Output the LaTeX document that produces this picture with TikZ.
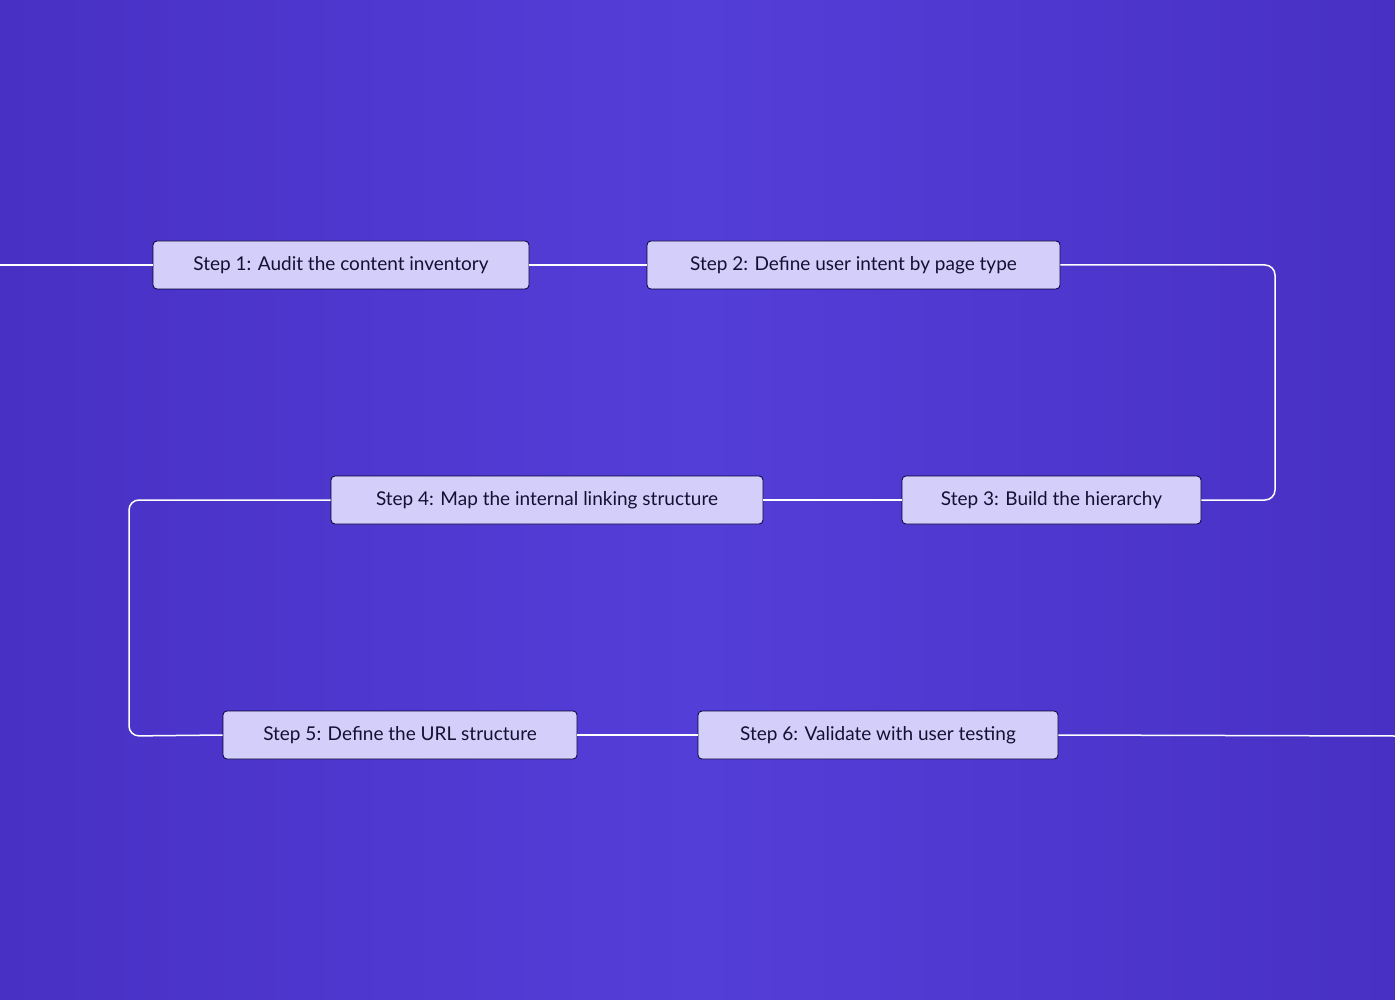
\documentclass[tikz,border=0pt]{standalone}
\usepackage{fontspec}
\setmainfont{Lato}
\begin{document}
\begin{tikzpicture}[x=1pt,y=-1pt,
  stepbox/.style={draw=black!80!blue, line width=0.8pt, rounded corners=4pt, fill={rgb,255:red,212;green,207;blue,250}, minimum height=48pt, inner sep=0pt, font=\fontsize{19}{22}\selectfont, text={rgb,255:red,20;green,16;blue,50}},
  link/.style={draw=white, line width=1.5pt, rounded corners=10pt}]
\definecolor{edge}{RGB}{72,48,196}
\definecolor{mid}{RGB}{84,62,216}
\shade[left color=edge, right color=edge, middle color=mid] (0,0) rectangle (1395,1000);
\useasboundingbox (0,0) rectangle (1395,1000);
\node[stepbox, minimum width=376pt] (s1) at (341,265) {Step 1: Audit the content inventory};
\node[stepbox, minimum width=413pt] (s2) at (853.5,265) {Step 2: Define user intent by page type};
\node[stepbox, minimum width=299pt] (s3) at (1051.5,500) {Step 3: Build the hierarchy};
\node[stepbox, minimum width=432pt] (s4) at (547,500) {Step 4: Map the internal linking structure};
\node[stepbox, minimum width=354pt] (s5) at (400,735) {Step 5: Define the URL structure};
\node[stepbox, minimum width=360pt] (s6) at (878,735) {Step 6: Validate with user testing};
\coordinate (start) at (0,265);
\coordinate (end) at (1395,736);
\draw[link] (start) -- (s1.west);
\draw[link] (s1.east) -- (s2.west);
\draw[link] (s2.east) -- (1275,265) -- (1275,500) -- (s3.east);
\draw[link] (s3.west) -- (s4.east);
\draw[link] (s4.west) -- (129,500) -- (129,736) -- (s5.west);
\draw[link] (s5.east) -- (s6.west);
\draw[link] (s6.east) -- (end);
\end{tikzpicture}
\end{document}
